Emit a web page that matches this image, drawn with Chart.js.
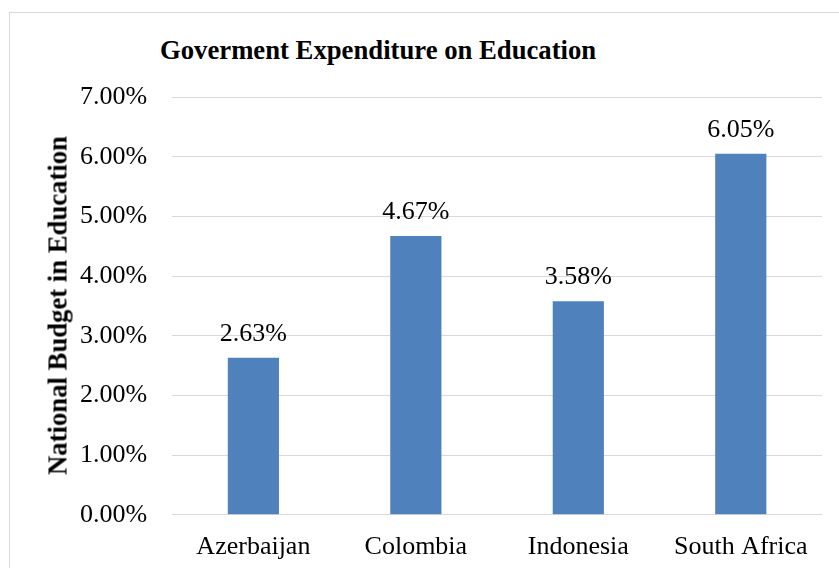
<!DOCTYPE html>
<html>
<head>
<meta charset="utf-8">
<script src="https://cdn.jsdelivr.net/npm/chart.js@4"></script>
<style>
  html, body { margin: 0; padding: 0; background: #fff; }
  #wrap { position: relative; width: 839px; height: 568px; overflow: hidden; }
  #frame { position: absolute; left: 9px; top: 12px; width: 900px; height: 700px; border: 1px solid #d9d9d9; box-sizing: border-box; }
  #title { position: absolute; left: 160px; top: 37px; font: bold 26.7px 'Liberation Serif', serif; line-height: 1; color: #000; white-space: nowrap; }
  #y-title { position: absolute; left: -142px; top: 292px; width: 400px; height: 27px; text-align: center; transform: rotate(-90deg); font: bold 26.7px 'Liberation Serif', serif; line-height: 1; color: #000; white-space: nowrap; }
  #chart-box { position: absolute; left: 0; top: 0; width: 839px; height: 568px; }
</style>
</head>
<body>
<div id="wrap">
  <div id="frame"></div>
  <div id="title">Goverment Expenditure on Education</div>
  <div id="chart-box"><canvas id="budget"></canvas></div>
  <div id="y-title"></div>
</div>
<script>
const countries = ['Azerbaijan', 'Colombia', 'Indonesia', 'South Africa'];
const budgetShare = [2.63, 4.67, 3.58, 6.05];
const yAxisTitle = 'National Budget in Education';

const serif = "'Liberation Serif', 'Times New Roman', serif";

document.getElementById('y-title').textContent = yAxisTitle;

// draws the value label above each bar
const barLabels = {
  id: 'barLabels',
  afterDatasetsDraw (chart) {
    const { ctx } = chart;
    const meta = chart.getDatasetMeta(0);
    ctx.save();
    ctx.font = '26px ' + serif;
    ctx.fillStyle = '#000';
    ctx.textAlign = 'center';
    ctx.textBaseline = 'alphabetic';
    meta.data.forEach((bar, i) => {
      ctx.fillText(budgetShare[i].toFixed(2) + '%', bar.x, bar.y - 17);
    });
    ctx.restore();
  }
};

// eslint-disable-next-line no-undef
const budgetChart = new Chart('budget', {
  type: 'bar',
  data: {
    labels: countries,
    datasets: [
      { data: budgetShare, backgroundColor: '#4f81bd', barPercentage: 0.315, categoryPercentage: 1 }
    ]
  },
  options: {
    responsive: true,
    maintainAspectRatio: false,
    animation: false,
    layout: { padding: { top: 97, left: 55, right: 17, bottom: -12 } },
    plugins: {
      legend: { display: false },
      tooltip: { enabled: false }
    },
    scales: {
      x: {
        grid: { display: false, drawTicks: false },
        border: { display: false },
        ticks: { color: '#000', font: { family: serif, size: 26 }, padding: 17 }
      },
      y: {
        min: 0,
        max: 7,
        border: { display: false },
        grid: { color: '#d9d9d9', lineWidth: 1, drawTicks: false },
        ticks: {
          stepSize: 1,
          color: '#000',
          font: { family: serif, size: 26 },
          padding: 25,
          callback: value => value.toFixed(2) + '%'
        }
      }
    }
  },
  plugins: [barLabels]
});
</script>
</body>
</html>
